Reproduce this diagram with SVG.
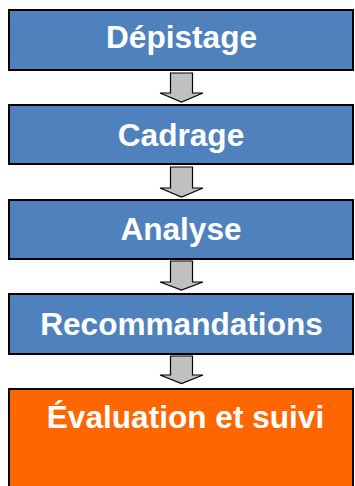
<svg xmlns="http://www.w3.org/2000/svg" width="355" height="486" viewBox="0 0 355 486">
<style>
.box{fill:#4F81BD;stroke:#000;stroke-width:2}
.orange{fill:#FF6600;stroke:#000;stroke-width:2}
.lbl{font-family:"Liberation Sans",Arial,sans-serif;font-weight:bold;font-size:31.6px;fill:#fff;text-anchor:middle}
.arr{fill:#C0C0C0;stroke:#000;stroke-width:1.2;stroke-linejoin:miter}
</style>
<rect x="0" y="0" width="355" height="486" fill="#fff"/>
<g id="connectors">
<polygon class="arr" points="170.5,73 192.5,73 192.5,93 203,93 181.5,102 160,93 170.5,93"/>
<polygon class="arr" points="170.5,167 192.5,167 192.5,188 203,188 181.5,197 160,188 170.5,188"/>
<polygon class="arr" points="170.5,261 192.5,261 192.5,282 203,282 181.5,290 160,282 170.5,282"/>
<polygon class="arr" points="170.5,356 192.5,356 192.5,375 203,375 181.5,383.5 160,375 170.5,375"/>
</g>
<g id="depistage">
<rect class="box" x="9" y="10" width="344" height="60"/>
<text class="lbl" x="181.5" y="47.5">Dépistage</text>
</g>
<g id="cadrage">
<rect class="box" x="9" y="105" width="344" height="59"/>
<text class="lbl" x="181" y="145.5">Cadrage</text>
</g>
<g id="analyse">
<rect class="box" x="9" y="200" width="344" height="59"/>
<text class="lbl" x="181" y="240">Analyse</text>
</g>
<g id="recommandations">
<rect class="box" x="9" y="294" width="344" height="60"/>
<text class="lbl" x="181.5" y="335">Recommandations</text>
</g>
<g id="evaluation">
<rect class="orange" x="9" y="389" width="344" height="110"/>
<text class="lbl" x="185.5" y="428">Évaluation et suivi</text>
</g>
</svg>
